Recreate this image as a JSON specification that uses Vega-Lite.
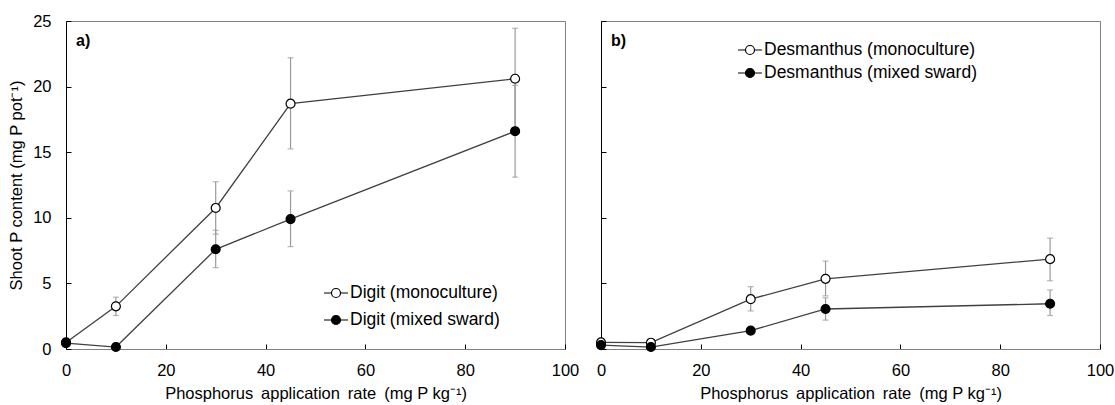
{
  "$schema": "https://vega.github.io/schema/vega-lite/v6.json",
  "padding": {"left": 8, "top": 12, "right": 12, "bottom": 0},
  "datasets": {
    "pts": [
      {"panel": "a", "series": "Digit (monoculture)", "x": 0, "y": 0.5, "lo": 0.5, "hi": 0.5},
      {"panel": "a", "series": "Digit (monoculture)", "x": 10, "y": 3.25, "lo": 2.55, "hi": 3.95},
      {"panel": "a", "series": "Digit (monoculture)", "x": 30, "y": 10.75, "lo": 8.75, "hi": 12.75},
      {"panel": "a", "series": "Digit (monoculture)", "x": 45, "y": 18.7, "lo": 15.25, "hi": 22.2},
      {"panel": "a", "series": "Digit (monoculture)", "x": 90, "y": 20.6, "lo": 16.75, "hi": 24.45},
      {"panel": "a", "series": "Digit (mixed sward)", "x": 0, "y": 0.45, "lo": 0.45, "hi": 0.45},
      {"panel": "a", "series": "Digit (mixed sward)", "x": 10, "y": 0.15, "lo": 0.15, "hi": 0.15},
      {"panel": "a", "series": "Digit (mixed sward)", "x": 30, "y": 7.6, "lo": 6.2, "hi": 9.05},
      {"panel": "a", "series": "Digit (mixed sward)", "x": 45, "y": 9.9, "lo": 7.8, "hi": 12.05},
      {"panel": "a", "series": "Digit (mixed sward)", "x": 90, "y": 16.6, "lo": 13.1, "hi": 20.1},
      {"panel": "b", "series": "Desmanthus (monoculture)", "x": 0, "y": 0.5, "lo": 0.5, "hi": 0.5},
      {"panel": "b", "series": "Desmanthus (monoculture)", "x": 10, "y": 0.48, "lo": 0.48, "hi": 0.48},
      {"panel": "b", "series": "Desmanthus (monoculture)", "x": 30, "y": 3.8, "lo": 2.9, "hi": 4.75},
      {"panel": "b", "series": "Desmanthus (monoculture)", "x": 45, "y": 5.35, "lo": 4.05, "hi": 6.7},
      {"panel": "b", "series": "Desmanthus (monoculture)", "x": 90, "y": 6.85, "lo": 5.2, "hi": 8.45},
      {"panel": "b", "series": "Desmanthus (mixed sward)", "x": 0, "y": 0.3, "lo": 0.3, "hi": 0.3},
      {"panel": "b", "series": "Desmanthus (mixed sward)", "x": 10, "y": 0.15, "lo": 0.15, "hi": 0.15},
      {"panel": "b", "series": "Desmanthus (mixed sward)", "x": 30, "y": 1.4, "lo": 1.3, "hi": 1.5},
      {"panel": "b", "series": "Desmanthus (mixed sward)", "x": 45, "y": 3.05, "lo": 2.2, "hi": 3.9},
      {"panel": "b", "series": "Desmanthus (mixed sward)", "x": 90, "y": 3.45, "lo": 2.55, "hi": 4.5}
    ]
  },
  "spacing": 13,
  "resolve": {"scale": {"fill": "independent"}, "legend": {"fill": "independent"}},
  "hconcat": [
    {
      "width": 499,
      "height": 328,
      "data": {"name": "pts"},
      "transform": [{"filter": "datum.panel == 'a'"}],
      "encoding": {
        "x": {
          "field": "x", "type": "quantitative",
          "scale": {"domain": [0, 100], "nice": false},
          "axis": {"values": [0, 20, 40, 60, 80, 100], "tickSize": -5, "labelPadding": 18, "titlePadding": 7, "labelFlush": false,
                   "title": "Phosphorus\u2009 application\u2009 rate\u2009 (mg P kg\u207b\u00b9)"}
        }
      },
      "layer": [
        {
          "mark": {"type": "rule", "color": "#999999", "strokeWidth": 1.2},
          "encoding": {
            "y": {"field": "lo", "type": "quantitative", "scale": {"domain": [0, 25], "nice": false},
                  "axis": {"values": [0, 5, 10, 15, 20, 25], "tickSize": -5, "labelPadding": 20, "titlePadding": 8, "labelFlush": false,
                           "title": "Shoot P content (mg P pot\u207b\u00b9)", "domainColor": "#000000"}},
            "y2": {"field": "hi"}
          }
        },
        {
          "mark": {"type": "tick", "orient": "horizontal", "size": 6, "thickness": 1.2, "color": "#999999"},
          "encoding": {"y": {"field": "lo", "type": "quantitative"}}
        },
        {
          "mark": {"type": "tick", "orient": "horizontal", "size": 6, "thickness": 1.2, "color": "#999999"},
          "encoding": {"y": {"field": "hi", "type": "quantitative"}}
        },
        {
          "mark": {"type": "line", "color": "#404040", "strokeWidth": 1.3},
          "encoding": {"y": {"field": "y", "type": "quantitative"}, "detail": {"field": "series"}}
        },
        {
          "mark": {"type": "point", "filled": true, "size": 80, "stroke": "#000000", "strokeWidth": 1.2, "opacity": 1},
          "encoding": {
            "y": {"field": "y", "type": "quantitative"},
            "fill": {
              "field": "series", "type": "nominal",
              "scale": {"domain": ["Digit (monoculture)", "Digit (mixed sward)"], "range": ["#ffffff", "#000000"]},
              "legend": {
                "orient": "none", "legendX": 257, "legendY": 259, "title": null, "padding": 0,
                "symbolType": "M-1,0L-0.375,0M0.375,0L1,0M0.375,0A0.375,0.375,0,1,1,-0.375,0A0.375,0.375,0,1,1,0.375,0Z",
                "symbolSize": 576, "symbolStrokeColor": "#000000", "symbolStrokeWidth": 1.2,
                "labelFontSize": 17.5, "labelLimit": 400, "labelOffset": 1, "rowPadding": 5, "labelColor": "#000000"
              }
            }
          }
        },
        {
          "transform": [{"filter": "datum.x == 0 && datum.series == 'Digit (monoculture)'"}],
          "mark": {"type": "text", "text": "a)", "fontWeight": "bold", "fontSize": 16, "align": "left", "baseline": "middle", "color": "#000000"},
          "encoding": {
            "x": {"datum": 2, "type": "quantitative"},
            "y": {"datum": 23.5, "type": "quantitative"}
          }
        }
      ]
    },
    {
      "width": 499,
      "height": 328,
      "data": {"name": "pts"},
      "transform": [{"filter": "datum.panel == 'b'"}],
      "encoding": {
        "x": {
          "field": "x", "type": "quantitative",
          "scale": {"domain": [0, 100], "nice": false},
          "axis": {"values": [0, 20, 40, 60, 80, 100], "tickSize": -5, "labelPadding": 18, "titlePadding": 7, "labelFlush": false,
                   "title": "Phosphorus\u2009 application\u2009 rate\u2009 (mg P kg\u207b\u00b9)"}
        }
      },
      "layer": [
        {
          "mark": {"type": "rule", "color": "#999999", "strokeWidth": 1.2},
          "encoding": {
            "y": {"field": "lo", "type": "quantitative", "scale": {"domain": [0, 25], "nice": false},
                  "axis": {"values": [0, 5, 10, 15, 20, 25], "tickSize": -5, "labels": false, "title": null, "domainColor": "#000000"}},
            "y2": {"field": "hi"}
          }
        },
        {
          "mark": {"type": "tick", "orient": "horizontal", "size": 6, "thickness": 1.2, "color": "#999999"},
          "encoding": {"y": {"field": "lo", "type": "quantitative"}}
        },
        {
          "mark": {"type": "tick", "orient": "horizontal", "size": 6, "thickness": 1.2, "color": "#999999"},
          "encoding": {"y": {"field": "hi", "type": "quantitative"}}
        },
        {
          "mark": {"type": "line", "color": "#404040", "strokeWidth": 1.3},
          "encoding": {"y": {"field": "y", "type": "quantitative"}, "detail": {"field": "series"}}
        },
        {
          "mark": {"type": "point", "filled": true, "size": 80, "stroke": "#000000", "strokeWidth": 1.2, "opacity": 1},
          "encoding": {
            "y": {"field": "y", "type": "quantitative"},
            "fill": {
              "field": "series", "type": "nominal",
              "scale": {"domain": ["Desmanthus (monoculture)", "Desmanthus (mixed sward)"], "range": ["#ffffff", "#000000"]},
              "legend": {
                "orient": "none", "legendX": 136, "legendY": 16, "title": null, "padding": 0,
                "symbolType": "M-1,0L-0.375,0M0.375,0L1,0M0.375,0A0.375,0.375,0,1,1,-0.375,0A0.375,0.375,0,1,1,0.375,0Z",
                "symbolSize": 576, "symbolStrokeColor": "#000000", "symbolStrokeWidth": 1.2,
                "labelFontSize": 17.5, "labelLimit": 400, "labelOffset": 1, "rowPadding": 1, "labelColor": "#000000"
              }
            }
          }
        },
        {
          "transform": [{"filter": "datum.x == 0 && datum.series == 'Desmanthus (monoculture)'"}],
          "mark": {"type": "text", "text": "b)", "fontWeight": "bold", "fontSize": 16, "align": "left", "baseline": "middle", "color": "#000000"},
          "encoding": {
            "x": {"datum": 2, "type": "quantitative"},
            "y": {"datum": 23.5, "type": "quantitative"}
          }
        }
      ]
    }
  ],
  "config": {
    "font": "Liberation Sans",
    "view": {"stroke": "#808080", "strokeWidth": 1},
    "axis": {
      "grid": false, "labelFontSize": 16.5, "titleFontSize": 16.5, "titleFontWeight": "normal",
      "labelColor": "#000000", "titleColor": "#000000", "domainColor": "#808080", "tickColor": "#000000",
      "labelFont": "Liberation Sans", "titleFont": "Liberation Sans"
    },
    "legend": {"labelFont": "Liberation Sans"}
  }
}
